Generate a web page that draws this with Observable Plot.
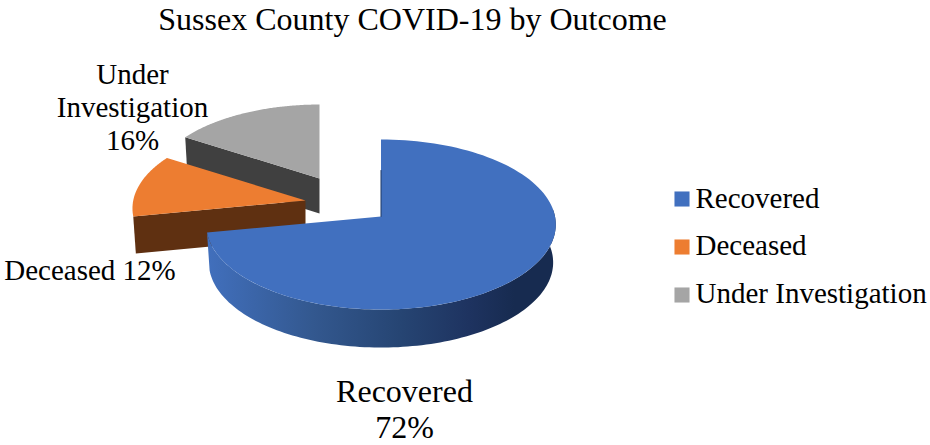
<!DOCTYPE html>
<html><head><meta charset="utf-8">
<style>html,body{margin:0;padding:0;background:#fff}svg{display:block}</style>
<script src="https://cdn.jsdelivr.net/npm/d3@7"></script>
<script src="https://cdn.jsdelivr.net/npm/@observablehq/plot@0.6"></script>
</head><body><div id="chart"></div>
<script>
const title = "Sussex County COVID-19 by Outcome";
const categories = ["Recovered", "Deceased", "Under Investigation"];
const shares = [72, 12, 16];
const labelLines = ["Recovered\n72%", "Deceased 12%", "Under\nInvestigation\n16%"];
const topColors = ["#4170BF", "#ED7D31", "#A5A5A5"];
const wallColors = ["url(#blueWall)", "#5F3011", "#404040"];

// layout (pixels in the identity x/y scales), not data
const W = 930, H = 445, RX = 174, P = -0.094, A = 84.3, TAPER = 0.985;
const slicePlace = [
  {ax: 380.5, ay: 216, scale: 1, depth: 38},
  {ax: 305, ay: 200, scale: 0.99, depth: 37},
  {ax: 319, ay: 178, scale: 0.96, depth: 35}
];
const labelPlace = [
  {x: 404, y: 408, lh: 1.13, size: 32},
  {x: 89.5, y: 268, lh: 1.2, size: 29},
  {x: 132, y: 106, lh: 1.14, size: 29}
];

const total = d3.sum(shares);
const turns = d3.cumsum(shares).map(v => v / total * 2 * Math.PI);
const starts = [0, ...turns.slice(0, -1)];
const proj = (k, t) => {
  const {ax, ay, scale} = slicePlace[k];
  const u = Math.sin(t), v = -Math.cos(t), d = 1 + P * v;
  return {x: ax + scale * RX * u / d, y: ay + scale * A * v / d};
};
const arc = (k, a, b) => d3.range(0, 121).map(i => proj(k, a + (b - a) * i / 120));

const tops = categories.map((c, k) => {
  const {ax, ay} = slicePlace[k];
  return [{x: ax, y: ay}, ...arc(k, starts[k], turns[k]), {x: ax, y: ay}];
});
const down = (k, pts) => pts.map(p => ({
  x: slicePlace[k].ax + (p.x - slicePlace[k].ax) * TAPER,
  y: p.y + slicePlace[k].depth
}));
const walls = categories.map((c, k) => {
  const {ax, ay} = slicePlace[k];
  if (k === 0) {
    const rim = arc(0, Math.PI * 0.47, turns[0]);
    return [...rim, ...down(k, rim).reverse()];
  }
  const edge = [{x: ax, y: ay}, proj(k, starts[k])];
  return [...edge, ...down(k, edge).reverse()];
});

const defs = () => {
  const s = d3.create("svg:defs");
  const g = s.append("linearGradient").attr("id", "blueWall")
    .attr("gradientUnits", "userSpaceOnUse").attr("x1", 208).attr("x2", 556).attr("y1", 0).attr("y2", 0);
  [[0, "#416FBC"], [0.3, "#33588F"], [0.55, "#264573"], [0.75, "#1E3360"], [0.88, "#172B50"], [1, "#172B50"]]
    .forEach(([o, c]) => g.append("stop").attr("offset", o).attr("stop-color", c));
  return s.node();
};

const order = [2, 1, 0];
const marks = [defs];
for (const k of order) {
  marks.push(Plot.line(walls[k], {x: "x", y: "y", fill: wallColors[k], stroke: "none"}));
  marks.push(Plot.line(tops[k], {x: "x", y: "y", fill: topColors[k], stroke: "none"}));
}
// thin inner edge of the recovered slice
marks.push(Plot.line([{x: slicePlace[0].ax, y: slicePlace[0].ay}, {x: slicePlace[0].ax, y: slicePlace[0].ay - 46}],
  {x: "x", y: "y", stroke: "#1F3864", strokeWidth: 1}));

labelLines.forEach((t, k) => marks.push(Plot.text([t], {
  x: () => labelPlace[k].x, y: () => labelPlace[k].y, text: d => d,
  lineHeight: labelPlace[k].lh, fontSize: labelPlace[k].size, fill: "#000", lineAnchor: "middle", textAnchor: "middle"
})));
const byLine = d => d;
marks.push(Plot.text([title], {x: () => 412, y: () => 19, text: byLine, fontSize: 32, fill: "#000", textAnchor: "middle"}));
marks.push(Plot.dot(categories, {x: () => 681.5, y: (d, i) => 198.5 + i * 48, symbol: "square", r: 8.5, fill: (d, i) => topColors[i], stroke: "none"}));
marks.push(Plot.text(categories, {x: () => 695, y: (d, i) => 198 + i * 47.5, text: byLine, fontSize: 29, fill: "#000", textAnchor: "start"}));

document.getElementById("chart").append(Plot.plot({
  width: W, height: H, margin: 0, style: {fontFamily: "'Liberation Serif', serif", background: "#fff", overflow: "visible"},
  x: {domain: [0, W], range: [0, W], axis: null},
  y: {domain: [0, H], range: [0, H], axis: null},
  color: {type: "identity"},
  marks
}));
</script></body></html>
